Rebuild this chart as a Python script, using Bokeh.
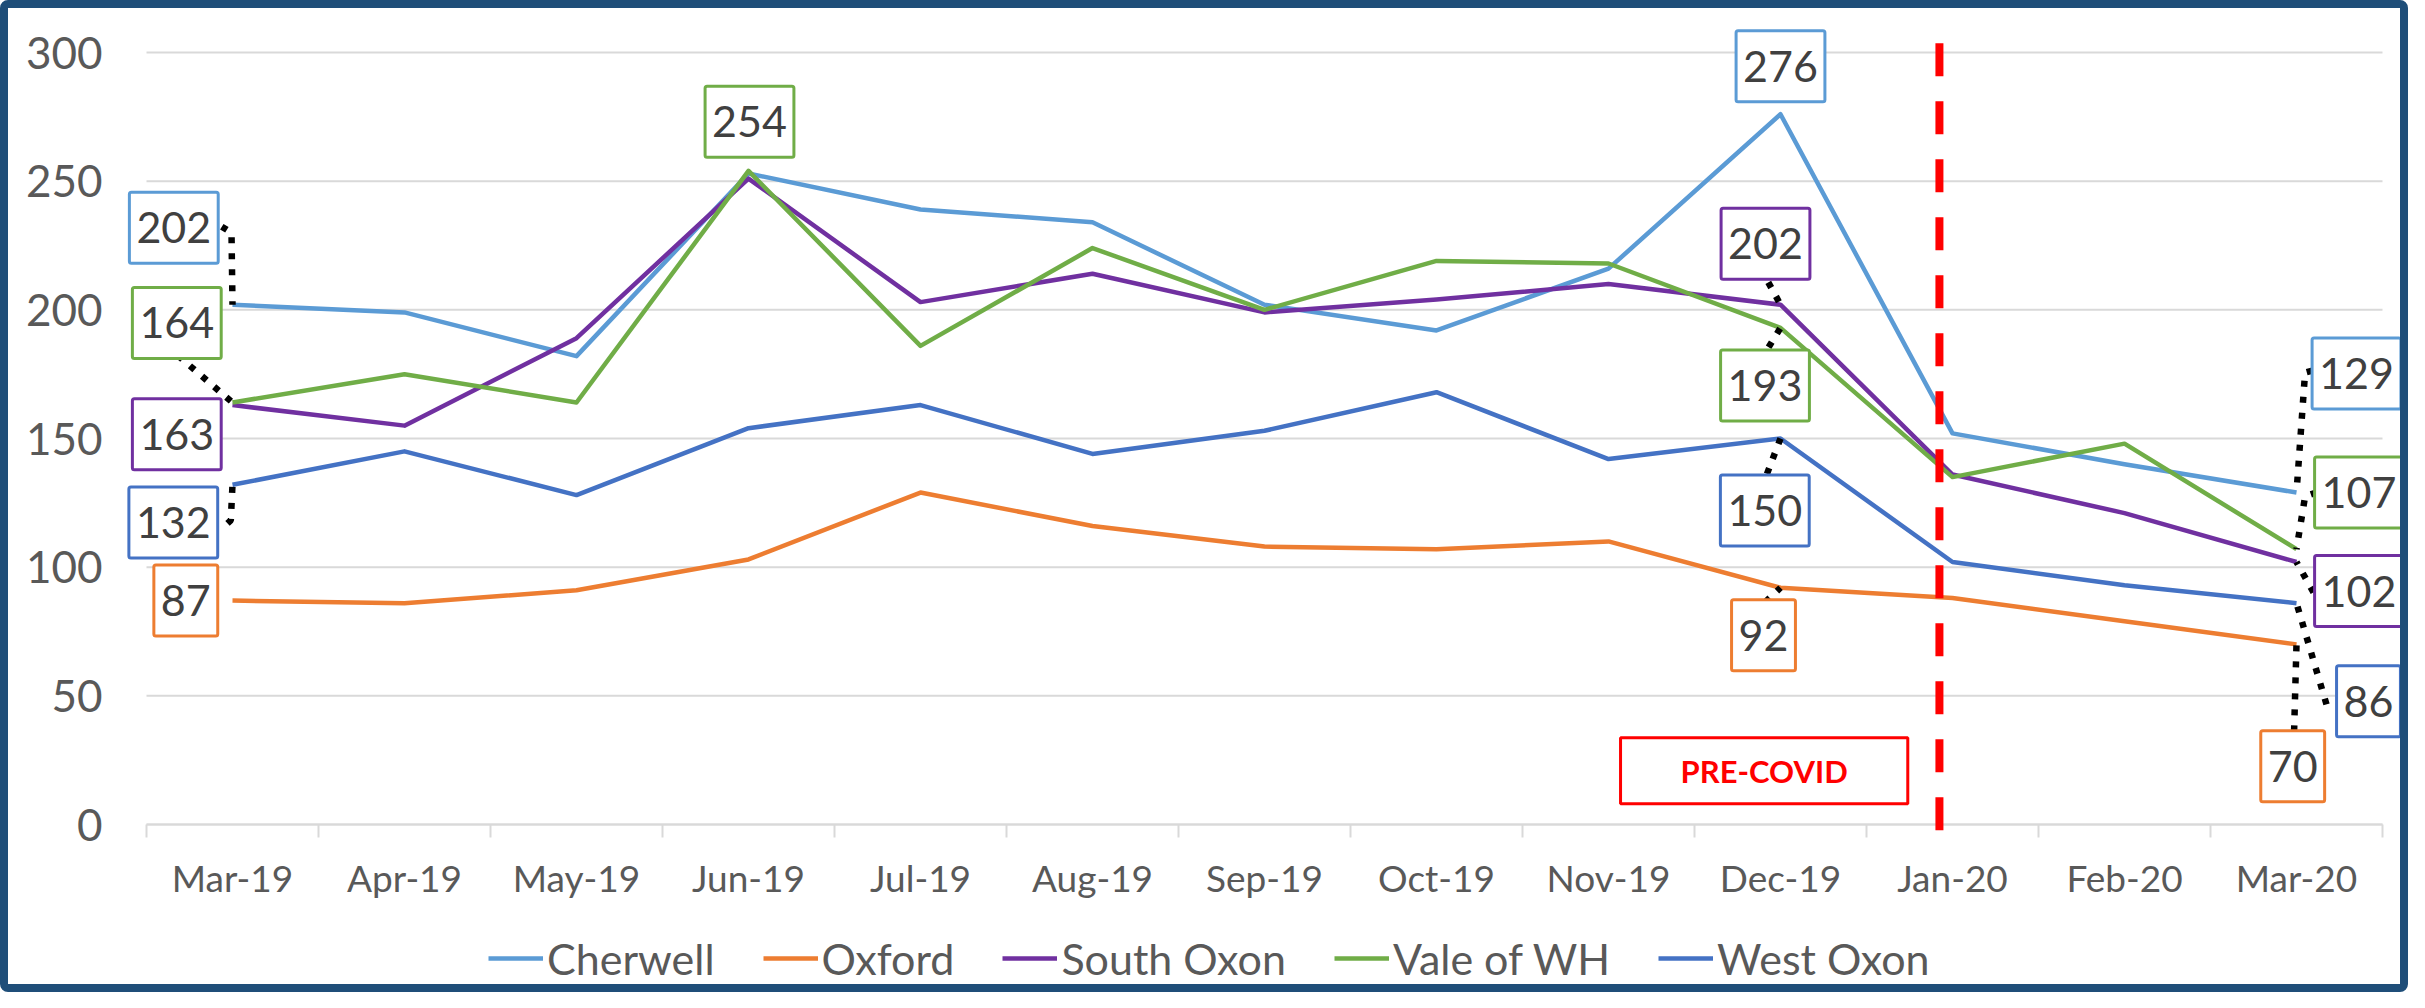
from bokeh.plotting import figure
from bokeh.models import Range1d, FixedTicker, Legend, LegendItem, Label, Arrow, BoxAnnotation
from bokeh.embed import file_html
from bokeh.resources import INLINE

# ---------------- data ----------------
months = ["Mar-19", "Apr-19", "May-19", "Jun-19", "Jul-19", "Aug-19", "Sep-19",
          "Oct-19", "Nov-19", "Dec-19", "Jan-20", "Feb-20", "Mar-20"]
cherwell   = [202, 199, 182, 253, 239, 234, 202, 192, 216, 276, 152, 140, 129]
oxford     = [87, 86, 91, 103, 129, 116, 108, 107, 110, 92, 88, 79, 70]
south_oxon = [163, 155, 189, 251, 203, 214, 199, 204, 210, 202, 136, 121, 102]
vale_of_wh = [164, 175, 164, 254, 186, 224, 200, 219, 218, 193, 135, 148, 107]
west_oxon  = [132, 145, 128, 154, 163, 144, 153, 168, 142, 150, 102, 93, 86]
series_names = ["Cherwell", "Oxford", "South Oxon", "Vale of WH", "West Oxon"]
y_ticks = [0, 50, 100, 150, 200, 250, 300]
annotation_text = "PRE-COVID"

# ---------------- styling / layout ----------------
colors = ["#5B9BD5", "#ED7D31", "#7030A0", "#70AD47", "#4472C4"]
series = [cherwell, oxford, south_oxon, vale_of_wh, west_oxon]
FONT = "Lato"
W, H = 2408, 992
PL, PR, PT, PB = 138, 2374, 44, 816   # plot-area edges on the canvas (px)

x = list(range(1, len(months) + 1))
bounds = [v - 0.5 for v in x] + [x[-1] + 0.5]
YMAX = y_ticks[-1]
px_x = (PR - PL) / len(months)
px_y = (PB - PT) / YMAX
x_start = bounds[0] - PL / px_x
x_end = bounds[-1] + (W - PR) / px_x
y_start = -(H - PB) / px_y
y_end = YMAX + PT / px_y

p = figure(width=W, height=H, output_backend="svg", toolbar_location=None,
           x_range=Range1d(x_start, x_end), y_range=Range1d(y_start, y_end),
           min_border=0, min_border_left=0, min_border_right=0,
           min_border_top=0, min_border_bottom=0)
p.styles = {"border": "8px solid #1F4E79", "border-radius": "8px"}
p.outline_line_color = None
p.background_fill_color = "white"
p.border_fill_color = "white"

# axes (drawn at fixed data locations, inside the canvas)
p.xaxis.fixed_location = 0
p.xaxis.bounds = (bounds[0], bounds[-1])
p.xaxis.ticker = FixedTicker(ticks=x, minor_ticks=bounds)
p.xaxis.major_label_overrides = {xi: m for xi, m in zip(x, months)}
p.xaxis.axis_line_color = "#D9D9D9"
p.xaxis.axis_line_width = 2
p.xaxis.major_tick_line_color = None
p.xaxis.major_tick_out = 0
p.xaxis.major_tick_in = 0
p.xaxis.minor_tick_line_color = "#D9D9D9"
p.xaxis.minor_tick_line_width = 2
p.xaxis.minor_tick_out = 13
p.xaxis.minor_tick_in = 0
p.xaxis.major_label_standoff = 17
p.xaxis.major_label_text_font = FONT
p.xaxis.major_label_text_font_size = "37px"
p.xaxis.major_label_text_color = "#595959"

p.yaxis.fixed_location = bounds[0]
p.yaxis.bounds = (0, YMAX)
p.yaxis.ticker = FixedTicker(ticks=y_ticks)
p.yaxis.axis_line_color = None
p.yaxis.major_tick_line_color = None
p.yaxis.minor_tick_line_color = None
p.yaxis.major_tick_out = 0
p.yaxis.major_label_standoff = 44
p.yaxis.major_label_text_font = FONT
p.yaxis.major_label_text_font_size = "44px"
p.yaxis.major_label_text_color = "#595959"

p.xgrid.visible = False
p.ygrid.visible = False
# horizontal gridlines limited to the plot area
p.segment(x0=[bounds[0]] * len(y_ticks), y0=y_ticks, x1=[bounds[-1]] * len(y_ticks), y1=y_ticks,
          line_color="#D9D9D9", line_width=2)

# series lines
renderers = []
for vals, col in zip(series, colors):
    r = p.line(x, vals, line_color=col, line_width=4.5, line_join="round")
    renderers.append(r)

# leader lines (pixel offsets from the data point, y up)
leaders = [
    (0, 0, [(-10.7, 78), (-1, 72)]),
    (3, 0, [(-54.7, 47)]),
    (4, 0, [(-5, -38.6), (-1.7, -35.6)]),
    (2, 9, [(-12.2, 22.3)]),
    (3, 9, [(-11.9, -19.4)]),
    (4, 9, [(-13.5, -35.3)]),
    (1, 9, [(-15.2, -14.3)]),
    (0, 12, [(16, 122), (8.6, 120)]),
    (3, 12, [(20, 56.7), (8.6, 52.7)]),
    (2, 12, [(17, -30.4)]),
    (4, 12, [(30, -101.2)]),
    (1, 12, [(-2.4, -87)]),
]
lxs, lys = [], []
for s, i, offs in leaders:
    px0, py0 = x[i], series[s][i]
    lxs.append([px0 + dx / px_x for dx, dy in offs] + [px0])
    lys.append([py0 + dy / px_y for dx, dy in offs] + [py0])
p.multi_line(lxs, lys, line_color="black", line_width=6.5, line_dash="6 10")

# red dashed divider
p.add_layout(Arrow(start=None, end=None, x_start=10.924, y_start=303.6, x_end=10.924, y_end=-3.4,
                   line_color="#FF0000", line_width=8, line_dash="33 25"))

# PRE-COVID box
p.add_layout(BoxAnnotation(left=9.07, right=10.74, top=33.7, bottom=8.04,
                           fill_alpha=0, line_color="#FF0000", line_width=3, line_alpha=1))
p.add_layout(Label(x=9.905, y=20.9, text=annotation_text, text_align="center", text_baseline="middle",
                   text_font=FONT, text_font_style="bold", text_font_size="31px", text_color="#FF0000"))

# data labels: (series, month index, dx, dy up) in pixels
labels = [
    (0, 0, -58.7, 77), (3, 0, -55.7, 79.5), (2, 0, -55.7, -29.2), (4, 0, -59.2, -37.6), (1, 0, -46.7, 0),
    (3, 3, 1, 49),
    (0, 9, 0, 48), (2, 9, -15, 61), (3, 9, -15.5, -57.7), (4, 9, -15.7, -72), (1, 9, -17, -47.6),
    (0, 12, 60, 119), (3, 12, 62.5, 56.7), (2, 12, 62.5, -29), (4, 12, 72, -98), (1, 12, -3.8, -122),
]
for s, i, dx, dy in labels:
    p.add_layout(Label(x=x[i], y=series[s][i], x_offset=dx, y_offset=dy, text=str(series[s][i]),
                       text_align="center", text_baseline="middle", text_font=FONT,
                       text_font_size="43px", text_color="#404040",
                       background_fill_color="white", border_line_color=colors[s],
                       border_line_width=3, padding=(7, 20), border_radius=2))

# legend
items = [LegendItem(label=n, renderers=[r]) for n, r in zip(series_names, renderers)]
legend = Legend(items=items, orientation="horizontal", location=(480, 16.5),
                glyph_width=55, glyph_height=20, label_standoff=4, spacing=48,
                padding=0, margin=0, border_line_alpha=0, background_fill_alpha=0,
                label_text_font=FONT, label_text_font_size="43px", label_text_color="#595959")
p.add_layout(legend, "center")

open("out.html", "w").write(file_html(p, INLINE, "chart"))
